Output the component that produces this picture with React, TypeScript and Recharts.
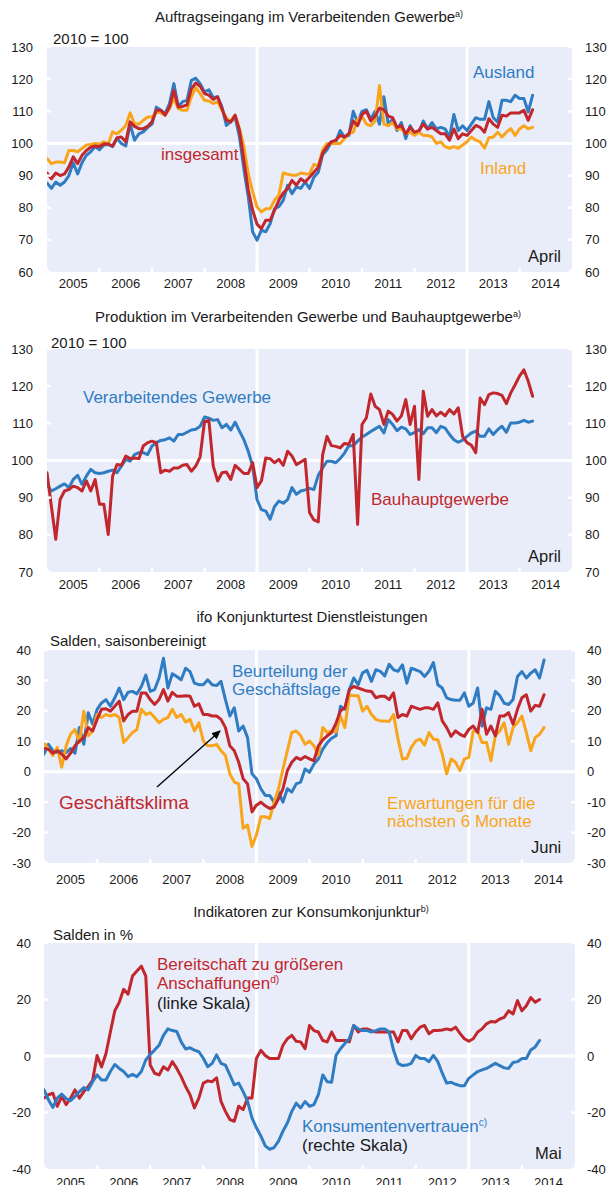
import React from 'react'
import { LineChart, Line, XAxis, YAxis, CartesianGrid } from 'recharts'

// months counted from Jan 2005 (index 0)
const YEARS = ['2005', '2006', '2007', '2008', '2009', '2010', '2011', '2012', '2013', '2014']
const DIVIDERS = [48, 96] // Jan 2009, Jan 2013

// Auftragseingang (2010 = 100), Jan 2005 - Apr 2014
const AUFTRAG_AUSLAND = [
  87.7, 86, 88, 87, 88, 90, 94, 90.5, 94, 96.3,
  97.4, 99, 98, 99.5, 99.7, 99, 101.5, 100, 99.2, 106,
  101, 103, 103.6, 105, 106, 111.3, 110.3, 109.3, 112.4, 118.6,
  111.5, 113, 113.4, 119.6, 120.3, 118.6, 116, 116.7, 114.2, 114.5,
  111.3, 105.6, 106.7, 108.2, 102, 92, 83.5, 72.5, 69.9, 73,
  72.5, 75, 79.7, 80.3, 82.3, 87, 84.4, 86.5, 86, 88,
  86, 89.5, 91, 96.5, 98, 100.5, 100.5, 104, 102, 102.5,
  110, 106.5, 110, 110.5, 107.5, 110, 106, 114.5, 106, 107.5,
  104, 106.5, 101.5, 105.5, 103, 103.5, 107, 104.5, 106.5, 104.5,
  105, 104.5, 102, 109, 104, 105.5, 104, 106, 108, 107.5,
  107.5, 113, 108, 106.7, 113.4, 113.4, 113, 115, 114, 114, 109.8, 115,
]
const AUFTRAG_INSGESAMT = [
  90.8, 89, 90.8, 90, 90.5, 92.7, 95.8, 93.7, 96.3, 97.8,
  98.8, 99.2, 99, 99.8, 99.8, 99.2, 101.8, 102, 100.5, 106.7,
  105.3, 104.6, 104.6, 105.3, 106.7, 110.3, 110.3, 108.8, 111.3, 116.5,
  111.3, 111.5, 112, 117, 118.8, 117.8, 115.5, 115, 113.7, 114.5,
  110.8, 107.2, 106.7, 108.8, 104, 94.8, 85.5, 79.2, 74.9, 73.5,
  76.1, 76.1, 79.2, 82.3, 84.6, 86, 88.5, 87, 89, 88,
  89.5, 91, 92.5, 97, 99, 100.5, 101, 102.5, 102, 103,
  107, 105.5, 109, 110, 107, 108.5, 111, 110.5, 108.5, 108,
  105, 105.5, 103, 105, 103.5, 104, 106, 104.5, 105, 104,
  103, 103, 101, 104.5, 101.5, 103, 102.5, 104, 105.6, 105,
  103.5, 107.7, 106, 105, 108.8, 108.5, 109.5, 109.5, 109.5, 110.3, 107.2, 110.5,
]
const AUFTRAG_INLAND = [
  95.3, 93.7, 94.2, 94.2, 94, 97.8, 97.8, 97.4, 98.4, 99.5,
  99.7, 100, 99.8, 100.5, 99.8, 103.6, 103, 104.1, 105.6, 109.5,
  106.2, 106, 107.2, 108.2, 108.2, 109.8, 109.5, 108.8, 110.8, 114,
  110.8, 110.3, 110.3, 114.5, 117.4, 115.5, 113.4, 113.2, 112.4, 113,
  110.3, 108, 106.7, 108.8, 104.6, 99, 90.6, 85, 80.3, 78.7,
  79.7, 79.7, 82.3, 83.9, 90.8, 90.4, 90.1, 90.1, 90.8, 90.6,
  90.5, 93.5, 93, 98, 100, 100, 100, 100, 101.5, 103,
  103.5, 107.5, 108.5, 106, 105.5, 107, 118, 106, 105.5, 106.5,
  104.5, 104.5, 103, 103.5, 102.5, 103.5, 102.5, 102.5, 102, 100,
  100.5, 99, 98.5, 99, 98.5, 99.5, 100.5, 102, 101, 100.5,
  98.5, 101.8, 102, 103.5, 102, 103.5, 104.6, 102.5, 104.5, 105.5, 104.6, 105,
]

// Produktion (2010 = 100), Jan 2005 - Apr 2014
const PROD_VERARB = [
  93.6, 91.8, 92.4, 93.1, 93.7, 92.7, 94.9, 96, 93.6, 95.8,
  97.6, 96.7, 96.5, 96.7, 97.1, 97.4, 96.7, 98.5, 100.3, 99.8,
  101.6, 102.1, 102.1, 101.6, 103.9, 104.8, 105.4, 105.6, 106.1, 105.2,
  107, 107, 107.6, 108.2, 108.4, 109.2, 111.7, 111.4, 110.8, 111,
  108.8, 109.7, 108.2, 110.3, 107.9, 105.6, 102.5, 98.5, 89.5, 86.8,
  86.4, 84.2, 87.6, 89.1, 88.5, 89.5, 92.7, 90.9, 91.8, 92.1,
  92.5, 92.2, 96, 98, 99.8, 99.8, 99.4, 100.5, 102, 104,
  104, 105.2, 106.3, 107, 107.8, 108.5, 109.2, 107.4, 111, 109.7,
  108, 109, 108.5, 107, 107.5, 108.3, 107.2, 108.8, 108.8, 107.5,
  109.2, 108.7, 107, 105.6, 104.9, 105.5, 106.5, 107.4, 107.9, 106.5,
  106.5, 108.5, 107, 108.3, 109.2, 107.6, 110.1, 110.1, 110.3, 110.8, 110.3, 110.6,
]
const PROD_BAU = [
  96.7, 87.7, 78.8, 89.5, 91.8, 92.2, 93.1, 92.7, 91.8, 94.5,
  91.8, 94.9, 88.2, 88.2, 80.1, 95.8, 98.9, 98.7, 101.2, 100.5,
  100.7, 100.5, 103.9, 104.8, 105.2, 104.8, 96.7, 97.4, 97.1, 98,
  98, 98.7, 98.9, 97.1, 98.5, 101, 110.5, 110.8, 98.5, 94.5,
  96.7, 96.9, 94.9, 98.7, 97.6, 96.5, 96.5, 99.4, 92.7, 94.5,
  100.7, 100.5, 99.4, 100.3, 98.7, 102.5, 101.2, 98.9, 99.6, 100.3,
  86, 84, 83.5, 101.5, 106.5, 104, 103.8, 103.4, 104.6, 104.4,
  107, 82.8, 109.7, 111.5, 117.9, 114.6, 113.7, 109.7, 113.3, 112.4,
  110.6, 112, 116.4, 109.7, 114.6, 94.9, 118.6, 111.9, 113.7, 112,
  113, 112, 113.7, 112.5, 114.2, 106.5, 104.8, 104.1, 102.1, 116.8,
  115, 117.7, 118.2, 118, 117.5, 115.3, 118.2, 120.4, 122.7, 124.4, 121.3, 117.3,
]

// ifo Dienstleistungen (Salden), Jan 2005 - Jun 2014
const IFO_LAGE = [
  5.8, 9, 6.9, 6.3, 6.9, 6.3, 7.6, 6.1, 14.5, 9,
  19.4, 15.6, 20.5, 22.6, 23.7, 21.5, 24.3, 27.5, 23.7, 26.1,
  26.4, 25.6, 28, 31.8, 26.4, 27, 30.8, 37.3, 27.5, 32.2,
  31.3, 30.2, 34, 32.9, 29.1, 28.6, 28.6, 30.2, 28.6, 28.3,
  29.7, 23.7, 18.3, 21, 13.4, 15, 11.2, -0.7, -2.3, -5.6,
  -7.8, -7.8, -10, -6.7, -10, -5.6, -6.7, -4, -3.4, 0.9,
  -0.2, 2.5, 4.2, 7.4, 9.5, 11, 11.8, 21.5, 20.5, 27,
  30.8, 28.6, 32.5, 33.3, 29.7, 33.5, 33, 31.5, 35.3, 33.5,
  33, 35.1, 29.1, 34, 33.5, 32.9, 31.3, 33, 35.9, 28.6,
  27.5, 24.3, 23.7, 23.5, 23.5, 25.9, 21.5, 22.6, 27.5, 15,
  21, 20.5, 26.4, 25, 22.5, 22.1, 23.7, 31.3, 32.9, 30.8, 32.4, 33.5, 30.8, 36.7,
]
const IFO_KLIMA = [
  7.6, 7.4, 6.1, 6.9, 5.8, 4.2, 6.1, 8.5, 10.1, 11.2,
  14.5, 13.4, 17.2, 20.5, 20.7, 19.9, 21.5, 23.2, 16.7, 18.8,
  19.9, 19.9, 25.9, 25.9, 23.7, 22.1, 23.7, 27, 23.2, 26.1,
  24.8, 24.8, 25, 24.8, 21.5, 22.3, 18.8, 18.8, 18.3, 18.3,
  17.2, 14.5, 8.5, 6.9, 3.1, -2.3, -4, -13.2, -11, -10,
  -11.2, -12.1, -11.6, -8.9, -5.6, 0.4, 3.1, 4.7, 4, 5,
  4.2, 3.6, 8.5, 10.5, 11.8, 12.9, 16, 20, 21, 27,
  28, 27.5, 27, 26.5, 26.4, 24.3, 24.8, 24.8, 23.7, 25.9,
  17.8, 18.8, 18.3, 21.5, 21, 20.5, 21, 21, 20.5, 22.6,
  16.7, 14.5, 11.6, 13.4, 12.3, 11.6, 13.9, 15, 12.9, 20.5,
  12.3, 15, 11.8, 18.3, 18.3, 19.4, 15.6, 20.5, 24.3, 25.3, 19.9, 21.8, 21.5, 25.3,
]
const IFO_ERWARTUNG = [
  9.6, 7.4, 5.3, 8, 1.5, 8.5, 12.3, 13.9, 9.6, 19.9,
  11.8, 13.4, 18.8, 17.8, 18.8, 18.3, 18.8, 17.8, 9.6, 11.2,
  12.9, 13.9, 20.5, 18.8, 19.4, 17.8, 16.1, 17.2, 17.8, 20.5,
  17.8, 18.8, 16.3, 17.2, 13.4, 16.1, 10.1, 8.5, 8.5, 9,
  6.9, 5.3, -0.7, -3.4, -4, -18.6, -17.5, -24.6, -20.8, -14.8,
  -14.8, -15.4, -10, -5.6, 0.9, 6.9, 12.9, 13.4, 11.8, 9,
  10.1, 8.5, 5.5, 14.5, 12.9, 13.4, 13, 18.3, 14.5, 25.3,
  25, 25, 19.9, 21.5, 18.8, 17.2, 16.7, 16.7, 16.5, 18.8,
  10.7, 4.2, 4.4, 8, 10.1, 10.7, 8.7, 12.9, 10.7, 10.5,
  5.8, -0.7, 4.2, 3.1, 0.4, 4.2, 4.7, 13.4, 13.4, 9.6,
  9.6, 3.6, 11.8, 13.4, 16.1, 9, 14.5, 16.1, 18.3, 12.9, 6.9, 11.2, 12.3, 14.5,
]

// Konsumkonjunktur (Salden in %), Jan 2005 - Mai 2014
const KONSUM_BEREITSCHAFT = [
  -14.9, -13.7, -13.2, -17.8, -14.3, -17.2, -14.9, -12, -14.9, -12.6,
  -10.8, -8.5, 0.2, -3.9, 0.8, 8.5, 16, 19, 23.6, 21.9,
  28.3, 30.1, 31.8, 28.3, -3.2, -6.1, -6.7, -3.8, -5, -2,
  -4.4, -7.3, -10.8, -13.7, -18.4, -14.9, -9.6, -8.8, -9.1, -7.7,
  -16.1, -19.6, -22.5, -23.1, -17.8, -19, -14.9, -14.9, -0.9, 2,
  0.2, -0.9, -0.9, -0.9, 3.8, 6.1, 7.3, 5.2, 5, 2.6,
  10.8, 9, 8.5, 5.5, 5, 8.5, 5.5, 5.5, 5.5, 5,
  10.8, 8.5, 9.6, 9.6, 9, 8.5, 8.5, 8.5, 8.5, 8.5,
  5, 9, 9, 6.1, 8.5, 10.2, 10.8, 7.9, 9, 9,
  9.2, 9.6, 9.2, 10.2, 8, 6.1, 5.2, 6.1, 8.5, 9.6,
  11.4, 12.2, 12, 13.1, 13.7, 16, 14.9, 19.6, 16, 17.8, 20.7, 19, 20,
]
const KONSUM_VERTRAUEN = [
  -12, -15.5, -18.2, -14.9, -13.5, -15.1, -15.8, -14.3, -12.6, -11.2,
  -12, -9.1, -6.7, -8.5, -8.5, -5.5, -3, -4.4, -5.5, -7.3,
  -6.5, -7.3, -5.5, -1.4, 0.6, 2.1, 3.8, 7.3, 9.6, 9,
  8.7, 5, 2.5, 2.9, 2.1, 1.5, -0.8, -3.8, -2.6, 0.4,
  -2.6, -3.2, -6.7, -10.2, -9.6, -12.6, -16.1, -21.9, -25.4, -28.3,
  -31.8, -33, -32.4, -30.1, -26.6, -23.7, -19.6, -16.7, -18.4, -16.1,
  -17.8, -17.2, -13.7, -6.7, -9.1, -9.3, 0.2, 2.6, 4.4, 6.1,
  10.8, 9.6, 9, 9, 8.5, 9, 9.6, 9.6, 8.5, 2,
  -2.6, -3.4, -3.2, -2.6, 0.2, -0.9, -0.9, -2, 0.2, -2,
  -6.1, -9.6, -9.3, -10, -10.5, -10.5, -7.9, -6.7, -5.5, -4.9,
  -4.4, -3.5, -2.6, -3.4, -4.2, -4.4, -2.3, -2, -0.9, -0.9, 2.1, 3.2, 5.5,
]

const TICKS_INDEX_1 = [60, 70, 80, 90, 100, 110, 120, 130]
const TICKS_INDEX_2 = [70, 80, 90, 100, 110, 120, 130]
const TICKS_IFO = [-30, -20, -10, 0, 10, 20, 30, 40]
const TICKS_KONSUM = [-40, -20, 0, 20, 40]

const BLUE = '#2f7cc3'
const RED = '#c1272d'
const ORANGE = '#f9a51c'
const BG = '#e9edf9'
const INK = '#1a1a1a'
const FONT = '"Liberation Sans", Arial, sans-serif'

const X_TICKS = [...YEARS.flatMap((_, i) => [i * 12, i * 12 + 6]), 120]

const toRows = (cols: Record<string, number[]>) => {
  const keys = Object.keys(cols)
  const n = Math.max(...keys.map((k) => cols[k].length))
  return Array.from({ length: n }, (_, i) => {
    const row: Record<string, number> = { m: i }
    keys.forEach((k) => (row[k] = cols[k][i]))
    return row
  })
}

const auftragRows = toRows({ aus: AUFTRAG_AUSLAND, inl: AUFTRAG_INLAND, ges: AUFTRAG_INSGESAMT })
const prodRows = toRows({ ver: PROD_VERARB, bau: PROD_BAU })
const ifoRows = toRows({ lage: IFO_LAGE, erw: IFO_ERWARTUNG, klima: IFO_KLIMA })
const konsumRows = toRows({ ber: KONSUM_BEREITSCHAFT, ver: KONSUM_VERTRAUEN })

function YearTick(props: any) {
  const { x, y, payload, dy } = props
  const v = payload.value
  if (v % 12 === 6) {
    return (
      <text x={x} y={y + dy} textAnchor="middle" dominantBaseline="central" fontSize={13} fill={INK} fontFamily={FONT}>
        {YEARS[(v - 6) / 12]}
      </text>
    )
  }
  return <rect x={x - 1.25} y={y - 4} width={2.5} height={4} fill="#fff" />
}

function LeftTick(props: any) {
  const { x, y, payload, gap } = props
  return (
    <g>
      <text x={x} y={y} textAnchor="end" dominantBaseline="central" fontSize={13} fill={INK} fontFamily={FONT}>
        {payload.value}
      </text>
      <line x1={x + gap} x2={x + gap + 4} y1={y} y2={y} stroke="#fff" strokeWidth={2.5} />
    </g>
  )
}

function RightTick(props: any) {
  const { x, y, payload, gap } = props
  return (
    <g>
      <text x={x} y={y} textAnchor="start" dominantBaseline="central" fontSize={13} fill={INK} fontFamily={FONT}>
        {payload.value}
      </text>
      <line x1={x - gap} x2={x - gap - 4} y1={y} y2={y} stroke="#fff" strokeWidth={2.5} />
    </g>
  )
}

type SeriesDef = { key: string; color: string; right?: boolean }

function Panel(props: {
  top: number
  height: number
  margin: { top: number; right: number; bottom: number; left: number }
  rightWidth: number
  xHeight: number
  yearDy: number
  leftGap: number
  rightGap: number
  yTicks: number[]
  base: number
  data: any[]
  series: SeriesDef[]
}) {
  const { top, height, margin, rightWidth, xHeight, yearDy, leftGap, rightGap, yTicks, base, data, series } = props
  const domain = [yTicks[0], yTicks[yTicks.length - 1]]
  return (
    <div style={{ position: 'absolute', left: 0, top }}>
      <LineChart width={613} height={height} data={data} margin={margin}>
        <CartesianGrid
          fill={BG}
          fillOpacity={1}
          stroke="#fff"
          strokeWidth={3}
          horizontalValues={[base]}
          verticalValues={DIVIDERS}
        />
        <XAxis
          type="number"
          dataKey="m"
          domain={[0, 120]}
          ticks={X_TICKS}
          interval={0}
          height={xHeight}
          tickSize={0}
          tickMargin={0}
          axisLine={false}
          tickLine={false}
          allowDataOverflow
          tick={(p: any) => <YearTick {...p} dy={yearDy} />}
        />
        <YAxis
          orientation="left"
          width={40}
          domain={domain}
          ticks={yTicks}
          interval={0}
          tickSize={0}
          tickMargin={leftGap}
          axisLine={false}
          tickLine={false}
          allowDataOverflow
          tick={(p: any) => <LeftTick {...p} gap={leftGap} />}
        />
        <YAxis
          yAxisId="r"
          orientation="right"
          width={rightWidth}
          domain={domain}
          ticks={yTicks}
          interval={0}
          tickSize={0}
          tickMargin={rightGap}
          axisLine={false}
          tickLine={false}
          allowDataOverflow
          tick={(p: any) => <RightTick {...p} gap={rightGap} />}
        />
        {series.map((s) => (
          <Line
            key={s.key}
            yAxisId={s.right ? 'r' : 0}
            type="linear"
            dataKey={s.key}
            stroke={s.color}
            strokeWidth={3}
            strokeLinejoin="round"
            strokeLinecap="round"
            dot={false}
            activeDot={false}
            isAnimationActive={false}
          />
        ))}
      </LineChart>
    </div>
  )
}

function Txt({ x, y, size = 17, color = INK, center = false, children }: any) {
  return (
    <div
      style={{
        position: 'absolute',
        left: x,
        top: y,
        transform: `translate(${center ? '-50%' : '0'}, -50%)`,
        fontSize: size,
        color,
        lineHeight: 1,
        whiteSpace: 'nowrap',
        fontFamily: FONT,
      }}
    >
      {children}
    </div>
  )
}

const Sup = ({ children }: any) => (
  <span style={{ fontSize: '0.6em', position: 'relative', top: '-0.6em' }}>{children}</span>
)

export default function App() {
  return (
    <div style={{ position: 'absolute', left: 0, top: 0, width: 613, height: 1185, overflow: 'hidden', background: '#fff', fontFamily: FONT }}>
      <Panel
        top={0}
        height={300}
        margin={{ top: 47, right: 1, bottom: 8, left: 7 }}
        rightWidth={40}
        xHeight={20}
        yearDy={11}
        leftGap={14}
        rightGap={13}
        yTicks={TICKS_INDEX_1}
        base={100}
        data={auftragRows}
        series={[
          { key: 'aus', color: BLUE, right: true },
          { key: 'inl', color: ORANGE },
          { key: 'ges', color: RED },
        ]}
      />
      <Panel
        top={300}
        height={300}
        margin={{ top: 49, right: 1, bottom: 8, left: 7 }}
        rightWidth={40}
        xHeight={20}
        yearDy={12.5}
        leftGap={14}
        rightGap={13}
        yTicks={TICKS_INDEX_2}
        base={100}
        data={prodRows}
        series={[
          { key: 'ver', color: BLUE, right: true },
          { key: 'bau', color: RED },
        ]}
      />
      <Panel
        top={600}
        height={295}
        margin={{ top: 50, right: 2, bottom: 12, left: 4 }}
        rightWidth={36}
        xHeight={20}
        yearDy={16}
        leftGap={13}
        rightGap={12}
        yTicks={TICKS_IFO}
        base={0}
        data={ifoRows}
        series={[
          { key: 'lage', color: BLUE, right: true },
          { key: 'erw', color: ORANGE },
          { key: 'klima', color: RED },
        ]}
      />
      <Panel
        top={895}
        height={290}
        margin={{ top: 48, right: 2, bottom: 0, left: 4 }}
        rightWidth={36}
        xHeight={16}
        yearDy={13}
        leftGap={13}
        rightGap={12}
        yTicks={TICKS_KONSUM}
        base={0}
        data={konsumRows}
        series={[
          { key: 'ber', color: RED },
          { key: 'ver', color: BLUE, right: true },
        ]}
      />

      {/* panel 1 texts */}
      <Txt x={309} y={16} size={15} center>
        Auftragseingang im Verarbeitenden Gewerbe<Sup>a)</Sup>
      </Txt>
      <Txt x={53} y={38} size={15}>2010 = 100</Txt>
      <Txt x={473} y={72} color={BLUE}>Ausland</Txt>
      <Txt x={161} y={154} color={RED}>insgesamt</Txt>
      <Txt x={480} y={168} color={ORANGE}>Inland</Txt>
      <Txt x={528} y={256} size={16.5}>April</Txt>

      {/* panel 2 texts */}
      <Txt x={308} y={316} size={15} center>
        Produktion im Verarbeitenden Gewerbe und Bauhauptgewerbe<Sup>a)</Sup>
      </Txt>
      <Txt x={51} y={342} size={15}>2010 = 100</Txt>
      <Txt x={83} y={397} color={BLUE}>Verarbeitendes Gewerbe</Txt>
      <Txt x={371} y={499} color={RED}>Bauhauptgewerbe</Txt>
      <Txt x={528} y={556} size={16.5}>April</Txt>

      {/* panel 3 texts */}
      <Txt x={312} y={616} size={15} center>ifo Konjunkturtest Dienstleistungen</Txt>
      <Txt x={50} y={640} size={15}>Salden, saisonbereinigt</Txt>
      <Txt x={232} y={671} color={BLUE}>Beurteilung der</Txt>
      <Txt x={232} y={689} color={BLUE}>Geschäftslage</Txt>
      <Txt x={59} y={802} size={19} color={RED}>Geschäftsklima</Txt>
      <Txt x={387} y={803} color={ORANGE}>Erwartungen für die</Txt>
      <Txt x={387} y={821} color={ORANGE}>nächsten 6 Monate</Txt>
      <Txt x={531} y={847} size={16.5}>Juni</Txt>

      {/* panel 4 texts */}
      <Txt x={311} y={911} size={15} center>
        Indikatoren zur Konsumkonjunktur<Sup>b)</Sup>
      </Txt>
      <Txt x={53} y={934} size={15}>Salden in %</Txt>
      <Txt x={157} y={964} color={RED}>Bereitschaft zu größeren</Txt>
      <Txt x={157} y={983} color={RED}>
        Anschaffungen<Sup>d)</Sup>
      </Txt>
      <Txt x={157} y={1003}>(linke Skala)</Txt>
      <Txt x={302} y={1126} color={BLUE}>
        Konsumentenvertrauen<Sup>c)</Sup>
      </Txt>
      <Txt x={302} y={1145}>(rechte Skala)</Txt>
      <Txt x={535} y={1153} size={16.5}>Mai</Txt>

      <svg width={613} height={1185} style={{ position: 'absolute', left: 0, top: 0, pointerEvents: 'none' }}>
        <defs>
          <marker id="arrowHead" markerWidth="9" markerHeight="8" refX="8" refY="4" orient="auto" markerUnits="userSpaceOnUse">
            <path d="M0,0 L9,4 L0,8 z" fill="#000" />
          </marker>
        </defs>
        <line x1={157} y1={787} x2={220} y2={731} stroke="#000" strokeWidth={1.3} markerEnd="url(#arrowHead)" />
      </svg>
    </div>
  )
}
